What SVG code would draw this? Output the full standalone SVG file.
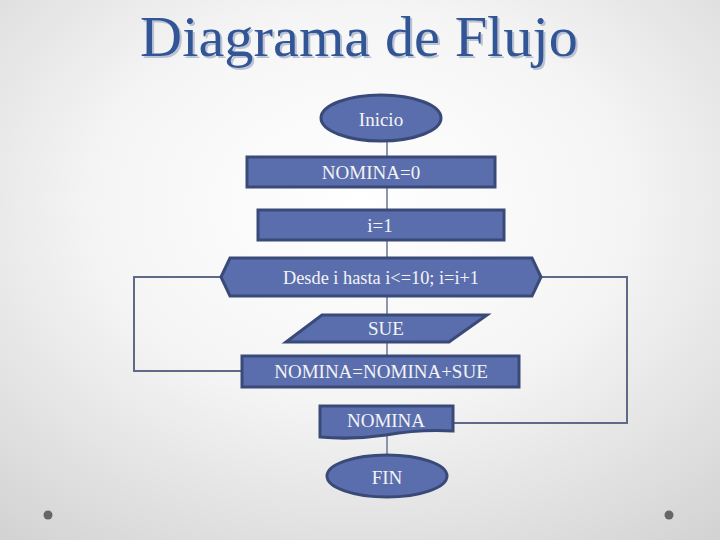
<svg xmlns="http://www.w3.org/2000/svg" width="720" height="540" viewBox="0 0 720 540">
<defs>
<radialGradient id="bg" cx="50%" cy="38%" r="80%">
<stop offset="0" stop-color="#ffffff"/>
<stop offset="0.45" stop-color="#f5f5f5"/>
<stop offset="1" stop-color="#d2d2d2"/>
</radialGradient>
<filter id="shadow" x="-5%" y="-20%" width="110%" height="140%">
<feOffset in="SourceAlpha" dx="2" dy="2" result="off"/>
<feFlood flood-color="#b9c3d3"/>
<feComposite in2="off" operator="in" result="sh"/>
<feMerge><feMergeNode in="sh"/><feMergeNode in="SourceGraphic"/></feMerge>
</filter>
<style>
.node{fill:#5a6eae;stroke:#3a4a78;stroke-width:3}
.lbl{font-family:"Liberation Serif","Times New Roman",serif;font-size:19px;fill:#f4f4f4;text-anchor:middle;dominant-baseline:central}
.con{fill:none;stroke:#6a7590;stroke-width:1.5}
.loop{fill:none;stroke:#5f6b86;stroke-width:2}
.title{font-family:"Liberation Serif","Times New Roman",serif;font-size:58px}
</style>
</defs>
<rect width="720" height="540" fill="url(#bg)"/>
<g id="title">
<text class="title" x="140" y="56" fill="#305596" filter="url(#shadow)" textLength="438" lengthAdjust="spacingAndGlyphs">Diagrama de Flujo</text>
</g>
<g id="connectors">
<line class="con" x1="387" y1="141" x2="387" y2="157"/>
<line class="con" x1="387" y1="187" x2="387" y2="210"/>
<line class="con" x1="387" y1="240" x2="387" y2="258"/>
<line class="con" x1="387" y1="296" x2="387" y2="315"/>
<line class="con" x1="387" y1="342" x2="387" y2="356"/>
<line class="con" x1="387" y1="436" x2="387" y2="455"/>
<polyline class="loop" points="221,277 134,277 134,371 242,371"/>
<polyline class="loop" points="541,277 627,277 627,423 453,423"/>
</g>
<g id="inicio">
<ellipse class="node" cx="381" cy="118" rx="60" ry="23"/>
<text class="lbl" x="381" y="119">Inicio</text>
</g>
<g id="nomina0">
<rect class="node" x="247" y="157" width="248" height="30"/>
<text class="lbl" x="371" y="172">NOMINA=0</text>
</g>
<g id="i1">
<rect class="node" x="258" y="210" width="246" height="30"/>
<text class="lbl" x="380" y="225">i=1</text>
</g>
<g id="desde">
<polygon class="node" points="221,277 230,258 532,258 541,277 532,296 230,296"/>
<text class="lbl" x="381" y="277" textLength="196" lengthAdjust="spacingAndGlyphs">Desde i hasta i&lt;=10; i=i+1</text>
</g>
<g id="sue">
<polygon class="node" points="322,315 487,315 449,342 286,342"/>
<text class="lbl" x="386" y="328">SUE</text>
</g>
<g id="suma">
<rect class="node" x="242" y="356" width="277" height="31"/>
<text class="lbl" x="381" y="371">NOMINA=NOMINA+SUE</text>
</g>
<g id="salida">
<path class="node" d="M320,406 H453 V431 Q420,429 386,435 Q352,440 320,437 Z"/>
<text class="lbl" x="386" y="420">NOMINA</text>
</g>
<g id="fin">
<ellipse class="node" cx="387" cy="476" rx="60" ry="21"/>
<text class="lbl" x="387" y="477">FIN</text>
</g>
<g id="bullets">
<circle cx="48" cy="515" r="4.5" fill="#666666"/>
<circle cx="669" cy="515" r="4.5" fill="#666666"/>
</g>
</svg>
